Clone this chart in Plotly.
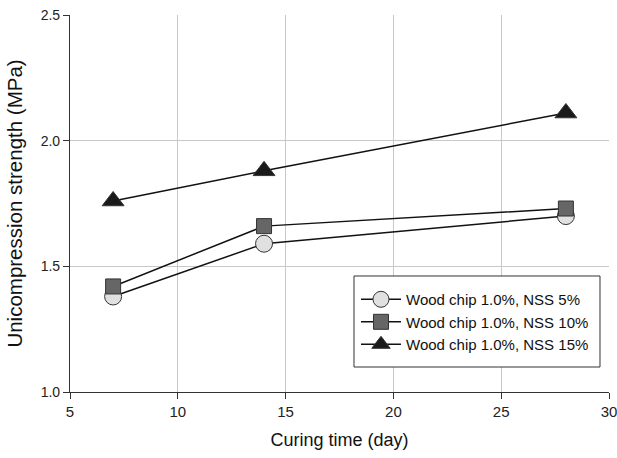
import plotly.graph_objects as go

days = [7, 14, 28]
nss5 = [1.38, 1.59, 1.70]
nss10 = [1.42, 1.66, 1.73]
nss15 = [1.76, 1.88, 2.11]
names = ["Wood chip 1.0%, NSS 5%", "Wood chip 1.0%, NSS 10%", "Wood chip 1.0%, NSS 15%"]

fig = go.Figure()
styles = [
    dict(symbol="circle", size=17, color="#e0e0e0"),
    dict(symbol="square", size=15, color="#666666"),
    dict(symbol="triangle-up", size=19, color="#1a1a1a"),
]
for name, vals, st in zip(names, [nss5, nss10, nss15], styles):
    fig.add_trace(go.Scatter(
        x=days, y=vals, name=name, mode="lines+markers",
        line=dict(color="#111111", width=1.5),
        marker=dict(symbol=st["symbol"], size=st["size"], color=st["color"],
                    line=dict(color="#333333", width=1)),
    ))

FONT = "Liberation Sans, Arial"
axis_common = dict(
    showline=True, linecolor="#333333", linewidth=1.2,
    ticks="outside", ticklen=6, tickcolor="#333333",
    showgrid=True, gridcolor="#c8c8c8", gridwidth=1,
    zeroline=False, automargin=False, ticklabeloverflow="allow",
)
fig.update_xaxes(range=[5, 30], tickvals=[5, 10, 15, 20, 25, 30],
                 tickfont=dict(family=FONT, size=15, color="#222222"),
                 title=dict(text="Curing time (day)", standoff=14,
                            font=dict(family=FONT, size=18, color="#111111")),
                 **axis_common)
fig.update_yaxes(range=[1.0, 2.5], tickvals=[1.0, 1.5, 2.0, 2.5], tickformat=".1f",
                 tickfont=dict(family=FONT, size=14, color="#222222"),
                 title=dict(text="Unicompression strength (MPa)", standoff=12,
                            font=dict(family=FONT, size=20.5, color="#111111")),
                 **axis_common)

# legend frame
fig.add_shape(type="rect", xref="paper", yref="paper",
              x0=0.5269, x1=0.9833, y0=0.0663, y1=0.3077,
              line=dict(color="#333333", width=1), fillcolor="white", layer="above")

fig.update_layout(
    width=617, height=458,
    margin=dict(l=70, r=8, t=15, b=66),
    paper_bgcolor="white", plot_bgcolor="white",
    font=dict(family=FONT, size=14, color="#222222"),
    legend=dict(x=0.5306, y=0.289, xanchor="left", yanchor="top",
                borderwidth=0, bgcolor="rgba(0,0,0,0)",
                font=dict(family=FONT, size=15, color="#111111"),
                tracegroupgap=0, itemwidth=40),
    showlegend=True,
)
fig.write_html("out.html", config={"displayModeBar": False},
               post_script="document.body.style.margin='0';")
